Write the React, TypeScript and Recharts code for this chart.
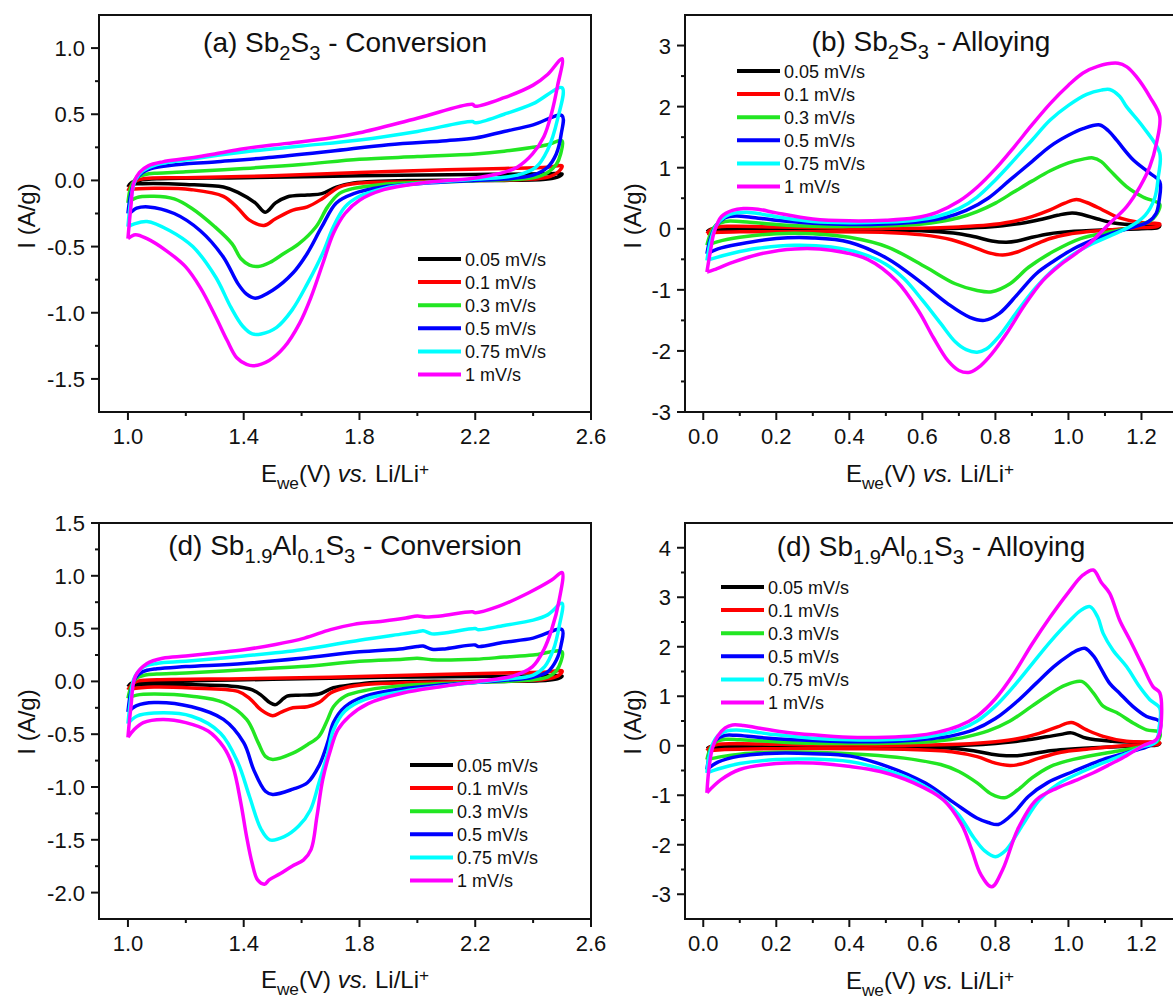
import React from 'react';
import { LineChart, Line, XAxis, YAxis, ReferenceArea, Legend } from 'recharts';

type Pt = [number, number];
type Seg = { t: string; s?: 'sub' | 'sup'; i?: boolean };

const FONT = '"Liberation Sans", Arial, Helvetica, sans-serif';
const INK = '#111';

const scanRates = ['0.05 mV/s', '0.1 mV/s', '0.3 mV/s', '0.5 mV/s', '0.75 mV/s', '1 mV/s'];
const rateColors = ['#000000', '#ff0000', '#22e622', '#0000ff', '#00ffff', '#ff00ff'];

// axis ticks (majors get a label, the rest are minor ticks)
const convTicksX = [1.0, 1.2, 1.4, 1.6, 1.8, 2.0, 2.2, 2.4, 2.6];
const convMajorX = [1.0, 1.4, 1.8, 2.2, 2.6];
const alloyTicksX = [0, 0.1, 0.2, 0.3, 0.4, 0.5, 0.6, 0.7, 0.8, 0.9, 1.0, 1.1, 1.2];
const alloyMajorX = [0, 0.2, 0.4, 0.6, 0.8, 1.0, 1.2];
const aTicksY = [-1.5, -1.25, -1.0, -0.75, -0.5, -0.25, 0, 0.25, 0.5, 0.75, 1.0];
const aMajorY = [-1.5, -1.0, -0.5, 0, 0.5, 1.0];
const bTicksY = [-3, -2.5, -2, -1.5, -1, -0.5, 0, 0.5, 1, 1.5, 2, 2.5, 3];
const bMajorY = [-3, -2, -1, 0, 1, 2, 3];
const cTicksY = [-2.0, -1.75, -1.5, -1.25, -1.0, -0.75, -0.5, -0.25, 0, 0.25, 0.5, 0.75, 1.0, 1.25, 1.5];
const cMajorY = [-2.0, -1.5, -1.0, -0.5, 0, 0.5, 1.0, 1.5];
const dTicksY = [-3, -2.5, -2, -1.5, -1, -0.5, 0, 0.5, 1, 1.5, 2, 2.5, 3, 3.5, 4];
const dMajorY = [-3, -2, -1, 0, 1, 2, 3, 4];

// (a) Sb2S3 - conversion, [E (V), I (A/g)]
const convA005: Pt[] = [[1.0,-0.05],[1.01,-0.02],[1.04,0.0],[1.1,0.012],[1.4,0.02],[1.8,0.035],[2.2,0.045],[2.45,0.05],[2.5,0.05],[2.49,0.03],[2.45,0.01],[2.3,0.0],[2.0,0.0],[1.78,-0.02],[1.72,-0.05],[1.67,-0.1],[1.62,-0.11],[1.55,-0.125],[1.51,-0.17],[1.475,-0.24],[1.44,-0.17],[1.38,-0.09],[1.33,-0.05],[1.2,-0.03],[1.05,-0.025],[1.01,-0.03],[1.0,-0.05]];
const convA01: Pt[] = [[1.0,-0.08],[1.01,-0.04],[1.03,0.0],[1.06,0.015],[1.2,0.02],[1.5,0.035],[1.8,0.06],[2.1,0.08],[2.3,0.09],[2.45,0.1],[2.5,0.11],[2.49,0.07],[2.46,0.03],[2.4,0.01],[2.2,0.0],[2.0,-0.01],[1.8,-0.02],[1.73,-0.05],[1.67,-0.14],[1.62,-0.2],[1.57,-0.225],[1.51,-0.29],[1.47,-0.34],[1.42,-0.3],[1.38,-0.21],[1.33,-0.12],[1.22,-0.07],[1.09,-0.06],[1.01,-0.07],[1.0,-0.08]];
const convA03: Pt[] = [[1.0,-0.17],[1.01,-0.05],[1.03,0.02],[1.06,0.045],[1.1,0.055],[1.2,0.065],[1.4,0.09],[1.6,0.12],[1.8,0.16],[2.0,0.18],[2.2,0.2],[2.3,0.22],[2.4,0.25],[2.45,0.27],[2.5,0.3],[2.495,0.2],[2.48,0.12],[2.45,0.06],[2.4,0.02],[2.3,0.005],[2.1,-0.01],[1.88,-0.03],[1.78,-0.06],[1.73,-0.1],[1.69,-0.2],[1.65,-0.35],[1.59,-0.48],[1.54,-0.55],[1.49,-0.62],[1.45,-0.65],[1.42,-0.64],[1.39,-0.59],[1.36,-0.48],[1.3,-0.35],[1.22,-0.21],[1.16,-0.14],[1.09,-0.12],[1.03,-0.13],[1.0,-0.17]];
const convA05: Pt[] = [[1.0,-0.25],[1.01,-0.1],[1.025,0.0],[1.05,0.06],[1.08,0.09],[1.15,0.115],[1.3,0.14],[1.5,0.175],[1.7,0.22],[1.9,0.27],[2.1,0.3],[2.2,0.32],[2.3,0.37],[2.4,0.42],[2.5,0.49],[2.497,0.35],[2.48,0.2],[2.45,0.1],[2.4,0.04],[2.3,0.01],[2.2,0.0],[2.0,-0.025],[1.88,-0.05],[1.78,-0.1],[1.72,-0.17],[1.67,-0.35],[1.62,-0.55],[1.57,-0.7],[1.5,-0.83],[1.44,-0.89],[1.41,-0.86],[1.38,-0.78],[1.33,-0.58],[1.25,-0.38],[1.16,-0.25],[1.07,-0.2],[1.03,-0.21],[1.01,-0.24],[1.0,-0.25]];
const convA075: Pt[] = [[1.0,-0.35],[1.01,-0.15],[1.025,0.0],[1.05,0.07],[1.1,0.12],[1.2,0.155],[1.4,0.215],[1.6,0.26],[1.8,0.305],[2.0,0.37],[2.19,0.445],[2.2,0.435],[2.3,0.5],[2.4,0.58],[2.5,0.7],[2.484,0.46],[2.45,0.23],[2.41,0.1],[2.345,0.04],[2.21,0.01],[2.015,-0.02],[1.884,-0.06],[1.8,-0.12],[1.75,-0.2],[1.71,-0.35],[1.673,-0.55],[1.62,-0.78],[1.567,-0.98],[1.514,-1.11],[1.46,-1.16],[1.43,-1.16],[1.396,-1.1],[1.356,-0.96],[1.303,-0.73],[1.224,-0.5],[1.145,-0.38],[1.066,-0.31],[1.02,-0.33],[1.0,-0.35]];
const convA1: Pt[] = [[1.0,-0.44],[1.01,-0.2],[1.02,-0.02],[1.04,0.06],[1.07,0.11],[1.12,0.14],[1.2,0.165],[1.3,0.2],[1.4,0.24],[1.55,0.28],[1.7,0.32],[1.8,0.36],[2.0,0.47],[2.19,0.575],[2.2,0.56],[2.3,0.625],[2.4,0.72],[2.45,0.8],[2.5,0.92],[2.484,0.71],[2.464,0.51],[2.437,0.33],[2.398,0.2],[2.345,0.1],[2.28,0.05],[2.187,0.015],[2.015,-0.02],[1.884,-0.07],[1.8,-0.15],[1.75,-0.25],[1.71,-0.4],[1.673,-0.63],[1.633,-0.88],[1.593,-1.08],[1.54,-1.26],[1.488,-1.36],[1.435,-1.4],[1.41,-1.39],[1.376,-1.34],[1.343,-1.21],[1.303,-1.03],[1.25,-0.81],[1.198,-0.65],[1.132,-0.53],[1.066,-0.44],[1.026,-0.41],[1.0,-0.44]];

// (b) Sb2S3 - alloying
const alloyB005: Pt[] = [[0.01,-0.05],[0.02,-0.01],[0.04,0.01],[0.1,0.01],[0.3,0.0],[0.5,-0.005],[0.65,0.0],[0.75,0.02],[0.82,0.05],[0.88,0.1],[0.93,0.16],[0.97,0.22],[1.01,0.26],[1.04,0.23],[1.08,0.16],[1.12,0.1],[1.17,0.07],[1.22,0.06],[1.25,0.05],[1.245,0.02],[1.2,0.0],[1.1,-0.02],[1.0,-0.05],[0.95,-0.08],[0.9,-0.14],[0.86,-0.2],[0.83,-0.22],[0.79,-0.2],[0.75,-0.14],[0.7,-0.08],[0.62,-0.04],[0.5,-0.02],[0.3,-0.02],[0.1,-0.03],[0.03,-0.04],[0.01,-0.05]];
const alloyB01: Pt[] = [[0.01,-0.08],[0.02,-0.02],[0.04,0.03],[0.08,0.04],[0.2,0.03],[0.4,0.01],[0.6,0.01],[0.7,0.03],[0.78,0.06],[0.84,0.11],[0.9,0.2],[0.95,0.31],[0.99,0.42],[1.022,0.48],[1.05,0.43],[1.09,0.32],[1.13,0.2],[1.18,0.12],[1.22,0.09],[1.25,0.08],[1.245,0.04],[1.2,0.02],[1.15,0.0],[1.05,-0.05],[1.0,-0.09],[0.95,-0.16],[0.9,-0.28],[0.86,-0.38],[0.82,-0.43],[0.78,-0.39],[0.74,-0.3],[0.68,-0.18],[0.6,-0.1],[0.5,-0.06],[0.3,-0.05],[0.1,-0.05],[0.03,-0.06],[0.01,-0.08]];
const alloyB03: Pt[] = [[0.01,-0.27],[0.02,-0.08],[0.035,0.06],[0.06,0.12],[0.1,0.12],[0.2,0.07],[0.3,0.04],[0.4,0.04],[0.5,0.05],[0.6,0.08],[0.65,0.12],[0.7,0.18],[0.75,0.28],[0.8,0.42],[0.85,0.6],[0.9,0.78],[0.95,0.95],[1.0,1.08],[1.04,1.14],[1.067,1.16],[1.09,1.1],[1.113,0.96],[1.159,0.69],[1.204,0.52],[1.25,0.4],[1.247,0.3],[1.226,0.14],[1.176,0.03],[1.115,-0.05],[1.033,-0.16],[0.962,-0.36],[0.891,-0.63],[0.84,-0.9],[0.79,-1.03],[0.75,-1.01],[0.69,-0.9],[0.61,-0.63],[0.505,-0.3],[0.4,-0.14],[0.3,-0.08],[0.2,-0.08],[0.1,-0.14],[0.04,-0.21],[0.01,-0.27]];
const alloyB05: Pt[] = [[0.01,-0.41],[0.02,-0.15],[0.035,0.05],[0.06,0.18],[0.09,0.21],[0.13,0.19],[0.2,0.14],[0.3,0.09],[0.4,0.07],[0.5,0.08],[0.6,0.12],[0.66,0.18],[0.72,0.3],[0.78,0.5],[0.84,0.8],[0.9,1.1],[0.95,1.35],[1.0,1.53],[1.04,1.64],[1.086,1.7],[1.11,1.6],[1.132,1.45],[1.177,1.13],[1.223,0.91],[1.25,0.77],[1.248,0.45],[1.24,0.25],[1.22,0.12],[1.18,0.03],[1.115,-0.08],[1.064,-0.19],[1.013,-0.33],[0.962,-0.52],[0.911,-0.74],[0.861,-1.07],[0.81,-1.39],[0.77,-1.5],[0.73,-1.45],[0.67,-1.23],[0.59,-0.85],[0.505,-0.49],[0.4,-0.22],[0.3,-0.15],[0.2,-0.16],[0.1,-0.25],[0.04,-0.33],[0.01,-0.41]];
const alloyB075: Pt[] = [[0.01,-0.52],[0.02,-0.2],[0.035,0.05],[0.06,0.2],[0.09,0.26],[0.12,0.27],[0.16,0.24],[0.22,0.18],[0.3,0.12],[0.4,0.1],[0.5,0.11],[0.58,0.14],[0.64,0.2],[0.7,0.33],[0.75,0.52],[0.8,0.8],[0.85,1.12],[0.9,1.45],[0.95,1.78],[1.0,2.02],[1.05,2.2],[1.09,2.27],[1.113,2.28],[1.14,2.17],[1.159,2.0],[1.204,1.67],[1.25,1.24],[1.246,0.85],[1.236,0.5],[1.21,0.22],[1.17,0.04],[1.12,-0.1],[1.064,-0.25],[1.013,-0.42],[0.962,-0.65],[0.911,-0.96],[0.86,-1.35],[0.81,-1.76],[0.775,-1.97],[0.75,-2.02],[0.72,-1.98],[0.69,-1.85],[0.65,-1.55],[0.6,-1.17],[0.55,-0.82],[0.5,-0.58],[0.43,-0.4],[0.35,-0.3],[0.25,-0.27],[0.15,-0.32],[0.08,-0.4],[0.03,-0.48],[0.01,-0.52]];
const alloyB1: Pt[] = [[0.01,-0.71],[0.02,-0.35],[0.03,-0.05],[0.05,0.2],[0.08,0.3],[0.11,0.33],[0.15,0.32],[0.2,0.26],[0.3,0.16],[0.4,0.13],[0.5,0.14],[0.58,0.18],[0.64,0.27],[0.7,0.45],[0.75,0.68],[0.8,0.98],[0.85,1.33],[0.9,1.7],[0.95,2.05],[1.0,2.35],[1.04,2.55],[1.08,2.66],[1.136,2.71],[1.16,2.65],[1.186,2.49],[1.223,2.16],[1.25,1.84],[1.241,1.4],[1.223,1.02],[1.196,0.69],[1.159,0.36],[1.113,0.09],[1.067,-0.19],[1.022,-0.4],[0.976,-0.6],[0.93,-0.85],[0.88,-1.25],[0.83,-1.72],[0.79,-2.05],[0.76,-2.24],[0.73,-2.35],[0.7,-2.32],[0.67,-2.16],[0.63,-1.78],[0.59,-1.35],[0.53,-0.86],[0.45,-0.5],[0.35,-0.35],[0.25,-0.33],[0.15,-0.42],[0.08,-0.55],[0.03,-0.67],[0.01,-0.71]];

// (c) Sb1.9Al0.1S3 - conversion
const convC005: Pt[] = [[1.0,-0.05],[1.01,-0.02],[1.03,-0.005],[1.1,0.0],[1.3,0.01],[1.5,0.02],[1.8,0.035],[2.1,0.045],[2.4,0.05],[2.5,0.05],[2.49,0.03],[2.45,0.01],[2.3,0.0],[2.0,0.0],[1.85,-0.01],[1.78,-0.03],[1.71,-0.06],[1.66,-0.12],[1.6,-0.13],[1.55,-0.14],[1.51,-0.22],[1.49,-0.2],[1.46,-0.13],[1.43,-0.08],[1.38,-0.05],[1.22,-0.03],[1.1,-0.03],[1.03,-0.035],[1.0,-0.05]];
const convC01: Pt[] = [[1.0,-0.08],[1.01,-0.04],[1.03,0.0],[1.1,0.015],[1.4,0.025],[1.7,0.04],[2.0,0.06],[2.3,0.08],[2.45,0.09],[2.5,0.1],[2.49,0.06],[2.46,0.03],[2.4,0.01],[2.2,0.0],[2.0,-0.01],[1.82,-0.03],[1.75,-0.06],[1.7,-0.11],[1.66,-0.2],[1.62,-0.24],[1.57,-0.25],[1.53,-0.29],[1.5,-0.325],[1.46,-0.27],[1.42,-0.16],[1.38,-0.095],[1.22,-0.063],[1.09,-0.054],[1.01,-0.073],[1.0,-0.08]];
const convC03: Pt[] = [[1.0,-0.16],[1.01,-0.06],[1.03,0.03],[1.06,0.06],[1.1,0.07],[1.2,0.08],[1.4,0.11],[1.6,0.14],[1.8,0.19],[1.95,0.21],[2.0,0.22],[2.05,0.205],[2.2,0.21],[2.3,0.23],[2.4,0.25],[2.5,0.28],[2.495,0.18],[2.48,0.1],[2.45,0.04],[2.38,0.01],[2.2,-0.01],[1.95,-0.04],[1.83,-0.08],[1.75,-0.14],[1.71,-0.24],[1.69,-0.36],[1.66,-0.52],[1.62,-0.6],[1.57,-0.68],[1.5,-0.74],[1.475,-0.71],[1.45,-0.58],[1.41,-0.36],[1.33,-0.2],[1.22,-0.14],[1.09,-0.12],[1.03,-0.13],[1.0,-0.16]];
const convC05: Pt[] = [[1.0,-0.29],[1.01,-0.1],[1.025,0.03],[1.05,0.09],[1.1,0.12],[1.2,0.14],[1.4,0.17],[1.6,0.22],[1.8,0.28],[1.95,0.31],[2.0,0.33],[2.02,0.335],[2.05,0.305],[2.1,0.31],[2.2,0.345],[2.21,0.33],[2.3,0.37],[2.4,0.41],[2.5,0.49],[2.497,0.35],[2.48,0.2],[2.45,0.09],[2.4,0.04],[2.3,0.01],[2.1,-0.03],[1.95,-0.07],[1.82,-0.14],[1.75,-0.24],[1.71,-0.39],[1.69,-0.58],[1.66,-0.8],[1.62,-0.96],[1.57,-1.02],[1.5,-1.07],[1.475,-1.04],[1.435,-0.84],[1.4,-0.58],[1.33,-0.36],[1.22,-0.24],[1.09,-0.2],[1.03,-0.23],[1.0,-0.29]];
const convC075: Pt[] = [[1.0,-0.4],[1.01,-0.15],[1.02,0.02],[1.05,0.13],[1.1,0.17],[1.2,0.19],[1.4,0.24],[1.6,0.3],[1.8,0.39],[1.95,0.45],[2.0,0.47],[2.02,0.48],[2.05,0.45],[2.1,0.46],[2.2,0.5],[2.21,0.49],[2.3,0.53],[2.4,0.58],[2.45,0.63],[2.5,0.74],[2.49,0.52],[2.47,0.3],[2.44,0.14],[2.4,0.06],[2.3,0.02],[2.1,-0.04],[1.95,-0.095],[1.82,-0.17],[1.75,-0.28],[1.71,-0.46],[1.69,-0.68],[1.66,-0.96],[1.63,-1.22],[1.59,-1.37],[1.54,-1.47],[1.49,-1.5],[1.46,-1.4],[1.42,-1.09],[1.38,-0.77],[1.32,-0.49],[1.22,-0.33],[1.09,-0.3],[1.03,-0.33],[1.0,-0.4]];
const convC1: Pt[] = [[1.0,-0.53],[1.01,-0.25],[1.026,0.05],[1.066,0.17],[1.12,0.22],[1.2,0.24],[1.3,0.27],[1.4,0.3],[1.51,0.35],[1.61,0.41],[1.7,0.49],[1.78,0.54],[1.88,0.57],[1.96,0.6],[2.0,0.62],[2.03,0.61],[2.08,0.62],[2.19,0.66],[2.2,0.65],[2.28,0.71],[2.385,0.84],[2.464,0.96],[2.5,1.03],[2.49,0.77],[2.464,0.49],[2.437,0.3],[2.398,0.14],[2.33,0.05],[2.21,0.0],[2.08,-0.05],[1.95,-0.11],[1.83,-0.21],[1.765,-0.33],[1.725,-0.46],[1.7,-0.65],[1.673,-0.93],[1.653,-1.28],[1.633,-1.59],[1.607,-1.69],[1.567,-1.75],[1.527,-1.82],[1.488,-1.88],[1.472,-1.92],[1.448,-1.88],[1.429,-1.72],[1.41,-1.47],[1.39,-1.15],[1.363,-0.81],[1.33,-0.62],[1.277,-0.47],[1.2,-0.39],[1.12,-0.36],[1.053,-0.39],[1.02,-0.46],[1.0,-0.53]];

// (d) Sb1.9Al0.1S3 - alloying
const alloyD005: Pt[] = [[0.01,-0.06],[0.02,-0.02],[0.04,0.0],[0.1,0.0],[0.3,0.0],[0.5,-0.01],[0.65,0.0],[0.75,0.02],[0.82,0.06],[0.88,0.11],[0.94,0.18],[0.98,0.23],[1.008,0.26],[1.05,0.15],[1.12,0.09],[1.18,0.07],[1.25,0.05],[1.245,0.02],[1.2,0.0],[1.1,-0.03],[1.0,-0.07],[0.95,-0.1],[0.9,-0.16],[0.86,-0.2],[0.83,-0.2],[0.79,-0.17],[0.74,-0.1],[0.68,-0.05],[0.5,-0.03],[0.2,-0.03],[0.05,-0.04],[0.01,-0.06]];
const alloyD01: Pt[] = [[0.01,-0.1],[0.02,-0.02],[0.04,0.03],[0.1,0.04],[0.3,0.02],[0.5,0.01],[0.65,0.02],[0.73,0.04],[0.8,0.08],[0.86,0.14],[0.92,0.25],[0.97,0.38],[1.008,0.47],[1.05,0.32],[1.095,0.19],[1.159,0.09],[1.25,0.06],[1.245,0.03],[1.15,0.0],[1.05,-0.07],[0.98,-0.13],[0.92,-0.25],[0.87,-0.37],[0.84,-0.4],[0.8,-0.35],[0.75,-0.22],[0.68,-0.12],[0.55,-0.07],[0.4,-0.06],[0.2,-0.06],[0.05,-0.08],[0.01,-0.1]];
const alloyD03: Pt[] = [[0.01,-0.28],[0.02,-0.05],[0.035,0.08],[0.06,0.13],[0.1,0.12],[0.2,0.08],[0.3,0.05],[0.5,0.05],[0.6,0.07],[0.66,0.11],[0.72,0.18],[0.78,0.3],[0.84,0.5],[0.9,0.8],[0.95,1.05],[0.99,1.22],[1.036,1.3],[1.068,1.07],[1.095,0.8],[1.132,0.67],[1.177,0.46],[1.214,0.32],[1.25,0.27],[1.245,0.1],[1.2,-0.02],[1.1,-0.15],[1.0,-0.3],[0.95,-0.42],[0.9,-0.65],[0.86,-0.9],[0.825,-1.05],[0.79,-0.98],[0.75,-0.75],[0.7,-0.52],[0.65,-0.38],[0.55,-0.25],[0.45,-0.18],[0.3,-0.13],[0.2,-0.13],[0.1,-0.17],[0.05,-0.22],[0.01,-0.28]];
const alloyD05: Pt[] = [[0.01,-0.48],[0.02,-0.1],[0.035,0.12],[0.06,0.21],[0.09,0.21],[0.15,0.17],[0.25,0.12],[0.35,0.09],[0.45,0.08],[0.55,0.1],[0.62,0.14],[0.68,0.2],[0.74,0.32],[0.8,0.55],[0.86,0.9],[0.91,1.25],[0.96,1.6],[1.0,1.82],[1.025,1.93],[1.045,1.97],[1.07,1.8],[1.086,1.6],[1.113,1.26],[1.14,1.06],[1.177,0.79],[1.214,0.59],[1.25,0.49],[1.248,0.22],[1.235,0.05],[1.2,-0.06],[1.155,-0.15],[1.094,-0.28],[1.013,-0.52],[0.942,-0.75],[0.891,-1.02],[0.85,-1.36],[0.808,-1.59],[0.78,-1.55],[0.749,-1.46],[0.688,-1.16],[0.607,-0.75],[0.505,-0.42],[0.403,-0.21],[0.3,-0.16],[0.2,-0.15],[0.1,-0.21],[0.04,-0.33],[0.01,-0.48]];
const alloyD075: Pt[] = [[0.01,-0.55],[0.015,-0.25],[0.025,0.02],[0.04,0.2],[0.065,0.3],[0.09,0.32],[0.13,0.29],[0.2,0.22],[0.3,0.15],[0.4,0.12],[0.5,0.12],[0.58,0.15],[0.64,0.21],[0.7,0.32],[0.75,0.5],[0.8,0.8],[0.85,1.2],[0.9,1.65],[0.95,2.1],[1.0,2.5],[1.035,2.74],[1.059,2.81],[1.08,2.6],[1.095,2.27],[1.122,1.93],[1.159,1.6],[1.195,1.19],[1.223,0.93],[1.25,0.76],[1.248,0.35],[1.24,0.08],[1.2,-0.03],[1.155,-0.17],[1.1,-0.33],[1.03,-0.55],[0.97,-0.78],[0.92,-1.1],[0.87,-1.65],[0.83,-2.1],[0.8,-2.24],[0.77,-2.12],[0.74,-1.85],[0.7,-1.4],[0.64,-0.98],[0.56,-0.65],[0.48,-0.45],[0.4,-0.32],[0.3,-0.27],[0.2,-0.28],[0.1,-0.36],[0.04,-0.47],[0.01,-0.55]];
const alloyD1: Pt[] = [[0.01,-0.95],[0.015,-0.5],[0.025,-0.05],[0.04,0.2],[0.06,0.36],[0.08,0.42],[0.11,0.41],[0.15,0.36],[0.22,0.28],[0.3,0.22],[0.4,0.17],[0.5,0.17],[0.58,0.2],[0.64,0.27],[0.7,0.4],[0.75,0.6],[0.8,0.95],[0.85,1.45],[0.9,2.05],[0.95,2.6],[1.0,3.1],[1.04,3.45],[1.068,3.55],[1.09,3.3],[1.113,3.08],[1.14,2.54],[1.168,2.14],[1.204,1.6],[1.232,1.19],[1.25,1.07],[1.25,0.26],[1.24,0.12],[1.204,0.0],[1.159,-0.2],[1.113,-0.38],[1.067,-0.55],[1.02,-0.7],[0.97,-0.85],[0.911,-1.1],[0.861,-1.69],[0.82,-2.5],[0.79,-2.85],[0.76,-2.6],[0.735,-2.1],[0.708,-1.6],[0.657,-1.09],[0.576,-0.75],[0.485,-0.52],[0.403,-0.42],[0.3,-0.35],[0.2,-0.36],[0.1,-0.48],[0.048,-0.69],[0.01,-0.95]];

const toRows = (pts: Pt[]) => pts.map(([E, I]) => ({ E, I }));
const isMajor = (list: number[], v: number) => list.some((m) => Math.abs(m - v) < 1e-6);

// centripetal Catmull-Rom through the read-off points, so loops turn smoothly
// without the overshoot a natural spline gives at the switching potentials
const smoothLoop = (context: any) => {
  let pts: Pt[] = [];
  return {
    areaStart() {},
    areaEnd() {},
    lineStart() {
      pts = [];
    },
    point(x: number, y: number) {
      pts.push([+x, +y]);
    },
    lineEnd() {
      if (!pts.length) return;
      context.moveTo(pts[0][0], pts[0][1]);
      for (let i = 0; i < pts.length - 1; i++) {
        const p1 = pts[i];
        const p2 = pts[i + 1];
        const p0 = pts[i - 1] || p1;
        const p3 = pts[i + 2] || p2;
        const d01 = Math.sqrt(Math.hypot(p1[0] - p0[0], p1[1] - p0[1]));
        const d12 = Math.sqrt(Math.hypot(p2[0] - p1[0], p2[1] - p1[1]));
        const d23 = Math.sqrt(Math.hypot(p3[0] - p2[0], p3[1] - p2[1]));
        let c1x = p1[0];
        let c1y = p1[1];
        let c2x = p2[0];
        let c2y = p2[1];
        if (d01 > 1e-6) {
          const a = 2 * d01 * d01 + 3 * d01 * d12 + d12 * d12;
          const n = 3 * d01 * (d01 + d12);
          c1x = (p1[0] * a - p0[0] * d12 * d12 + p2[0] * d01 * d01) / n;
          c1y = (p1[1] * a - p0[1] * d12 * d12 + p2[1] * d01 * d01) / n;
        }
        if (d23 > 1e-6) {
          const b = 2 * d23 * d23 + 3 * d23 * d12 + d12 * d12;
          const m = 3 * d23 * (d23 + d12);
          c2x = (p2[0] * b + p1[0] * d23 * d23 - p3[0] * d12 * d12) / m;
          c2y = (p2[1] * b + p1[1] * d23 * d23 - p3[1] * d12 * d12) / m;
        }
        context.bezierCurveTo(c1x, c1y, c2x, c2y, p2[0], p2[1]);
      }
    },
  };
};

function RichText({ x, y, parts, size, rotate = false }: { x: number; y: number; parts: Seg[]; size: number; rotate?: boolean }) {
  let level = 0;
  const shift = size * 0.28;
  const spans = parts.map((p, i) => {
    const target = p.s === 'sub' ? 1 : p.s === 'sup' ? -1 : 0;
    const dy = (target - level) * shift;
    level = target;
    return (
      <tspan key={i} dy={dy} fontSize={target === 0 ? size : size * 0.72} fontStyle={p.i ? 'italic' : 'normal'}>
        {p.t}
      </tspan>
    );
  });
  return (
    <text
      x={0}
      y={0}
      transform={`translate(${x},${y})${rotate ? ' rotate(-90)' : ''}`}
      textAnchor="middle"
      fontFamily={FONT}
      fontSize={size}
      fill={INK}
      style={{ whiteSpace: 'pre' }}
    >
      {spans}
    </text>
  );
}

const xTitle: Seg[] = [{ t: 'E' }, { t: 'we', s: 'sub' }, { t: '(V) ' }, { t: 'vs.', i: true }, { t: ' Li/Li' }, { t: '+', s: 'sup' }];
const yTitle: Seg[] = [{ t: 'I (A/g)' }];

interface PanelProps {
  left: number;
  top: number;
  width: number;
  height: number;
  margin: { top: number; right: number; bottom: number; left: number };
  xDomain: [number, number];
  yDomain: [number, number];
  xTicks: number[];
  xMajor: number[];
  yTicks: number[];
  yMajor: number[];
  yDigits: number;
  loops: Pt[][];
  title: Seg[];
  titleAt: [number, number];
  xTitleAt: [number, number];
  yTitleAt: [number, number];
  legendAt: [number, number];
}

function CvPanel(p: PanelProps) {
  const xTick = (props: any) => {
    const { x, y, payload } = props;
    const major = isMajor(p.xMajor, payload.value);
    return (
      <g>
        <line x1={x} x2={x} y1={y} y2={y + (major ? 8 : 4)} stroke={INK} strokeWidth={2} />
        {major && (
          <text x={x} y={y + 32} textAnchor="middle" fontFamily={FONT} fontSize={22} fill={INK}>
            {payload.value.toFixed(1)}
          </text>
        )}
      </g>
    );
  };
  const yTick = (props: any) => {
    const { x, y, payload } = props;
    const major = isMajor(p.yMajor, payload.value);
    return (
      <g>
        <line x1={x - (major ? 8 : 4)} x2={x} y1={y} y2={y} stroke={INK} strokeWidth={2} />
        {major && (
          <text x={x - 14} y={y + 8} textAnchor="end" fontFamily={FONT} fontSize={22} fill={INK}>
            {payload.value.toFixed(p.yDigits)}
          </text>
        )}
      </g>
    );
  };
  const legendBox = () => (
    <svg width={150} height={150} style={{ overflow: 'visible', display: 'block' }}>
      {scanRates.map((r, i) => (
        <g key={r}>
          <line x1={0} x2={43} y1={10 + i * 23.1} y2={10 + i * 23.1} stroke={rateColors[i]} strokeWidth={4} />
          <text x={47} y={16.5 + i * 23.1} fontFamily={FONT} fontSize={18} fill={INK}>
            {r}
          </text>
        </g>
      ))}
    </svg>
  );

  return (
    <div style={{ position: 'absolute', left: p.left, top: p.top, width: p.width, height: p.height }}>
      <LineChart width={p.width} height={p.height} margin={p.margin}>
        <XAxis
          type="number"
          dataKey="E"
          domain={p.xDomain}
          ticks={p.xTicks}
          interval={0}
          allowDataOverflow
          height={1}
          tickLine={false}
          tickSize={0}
          tickMargin={0}
          axisLine={{ stroke: INK, strokeWidth: 2 }}
          tick={xTick}
          label={{ content: () => <RichText x={p.xTitleAt[0]} y={p.xTitleAt[1]} parts={xTitle} size={24} /> }}
        />
        <YAxis
          type="number"
          domain={p.yDomain}
          ticks={p.yTicks}
          interval={0}
          allowDataOverflow
          width={1}
          tickLine={false}
          tickSize={0}
          tickMargin={0}
          axisLine={{ stroke: INK, strokeWidth: 2 }}
          tick={yTick}
          label={{ content: () => <RichText x={p.yTitleAt[0]} y={p.yTitleAt[1]} parts={yTitle} size={24} rotate /> }}
        />
        <ReferenceArea
          x1={p.xDomain[0]}
          x2={p.xDomain[1]}
          y1={p.yDomain[0]}
          y2={p.yDomain[1]}
          fill="none"
          stroke={INK}
          strokeWidth={2}
          label={{ content: () => <RichText x={p.titleAt[0]} y={p.titleAt[1]} parts={p.title} size={28} /> }}
        />
        {p.loops.map((pts, i) => (
          <Line
            key={scanRates[i]}
            name={scanRates[i]}
            data={toRows(pts)}
            dataKey="I"
            type={smoothLoop as any}
            stroke={rateColors[i]}
            strokeWidth={3.5}
            strokeLinejoin="round"
            dot={false}
            activeDot={false}
            isAnimationActive={false}
          />
        ))}
        <Legend
          layout="horizontal"
          align="center"
          verticalAlign="middle"
          content={legendBox}
          wrapperStyle={{ left: p.legendAt[0], top: p.legendAt[1], width: 150, height: 150 }}
        />
      </LineChart>
    </div>
  );
}

const titleA: Seg[] = [{ t: '(a) Sb' }, { t: '2', s: 'sub' }, { t: 'S' }, { t: '3', s: 'sub' }, { t: ' - Conversion' }];
const titleB: Seg[] = [{ t: '(b) Sb' }, { t: '2', s: 'sub' }, { t: 'S' }, { t: '3', s: 'sub' }, { t: ' - Alloying' }];
const titleC: Seg[] = [{ t: '(d) Sb' }, { t: '1.9', s: 'sub' }, { t: 'Al' }, { t: '0.1', s: 'sub' }, { t: 'S' }, { t: '3', s: 'sub' }, { t: ' - Conversion' }];
const titleD: Seg[] = [{ t: '(d) Sb' }, { t: '1.9', s: 'sub' }, { t: 'Al' }, { t: '0.1', s: 'sub' }, { t: 'S' }, { t: '3', s: 'sub' }, { t: ' - Alloying' }];

export default function App() {
  return (
    <div style={{ position: 'absolute', left: 0, top: 0, width: 1173, height: 999, overflow: 'hidden', background: '#fff' }}>
      <CvPanel
        left={0} top={0} width={620} height={500}
        margin={{ top: 15, right: 29, bottom: 87, left: 98 }}
        xDomain={[0.9, 2.6]} yDomain={[-1.75, 1.25]}
        xTicks={convTicksX} xMajor={convMajorX} yTicks={aTicksY} yMajor={aMajorY} yDigits={1}
        loops={[convA005, convA01, convA03, convA05, convA075, convA1]}
        title={titleA} titleAt={[345, 52]} xTitleAt={[345, 482]} yTitleAt={[35, 216]} legendAt={[418, 249]}
      />
      <CvPanel
        left={590} top={0} width={600} height={500}
        margin={{ top: 15, right: 12, bottom: 87, left: 94 }}
        xDomain={[-0.05, 1.3]} yDomain={[-3, 3.5]}
        xTicks={alloyTicksX} xMajor={alloyMajorX} yTicks={bTicksY} yMajor={bMajorY} yDigits={0}
        loops={[alloyB005, alloyB01, alloyB03, alloyB05, alloyB075, alloyB1]}
        title={titleB} titleAt={[341, 51]} xTitleAt={[340, 482]} yTitleAt={[51, 216]} legendAt={[147, 61]}
      />
      <CvPanel
        left={0} top={490} width={620} height={509}
        margin={{ top: 33, right: 29, bottom: 79, left: 98 }}
        xDomain={[0.9, 2.6]} yDomain={[-2.25, 1.5]}
        xTicks={convTicksX} xMajor={convMajorX} yTicks={cTicksY} yMajor={cMajorY} yDigits={1}
        loops={[convC005, convC01, convC03, convC05, convC075, convC1]}
        title={titleC} titleAt={[345, 65]} xTitleAt={[345, 498]} yTitleAt={[35, 232]} legendAt={[410, 265]}
      />
      <CvPanel
        left={590} top={490} width={600} height={509}
        margin={{ top: 33, right: 12, bottom: 79, left: 94 }}
        xDomain={[-0.05, 1.3]} yDomain={[-3.5, 4.5]}
        xTicks={alloyTicksX} xMajor={alloyMajorX} yTicks={dTicksY} yMajor={dMajorY} yDigits={0}
        loops={[alloyD005, alloyD01, alloyD03, alloyD05, alloyD075, alloyD1]}
        title={titleD} titleAt={[341, 66]} xTitleAt={[340, 499]} yTitleAt={[51, 232]} legendAt={[131, 87]}
      />
    </div>
  );
}
